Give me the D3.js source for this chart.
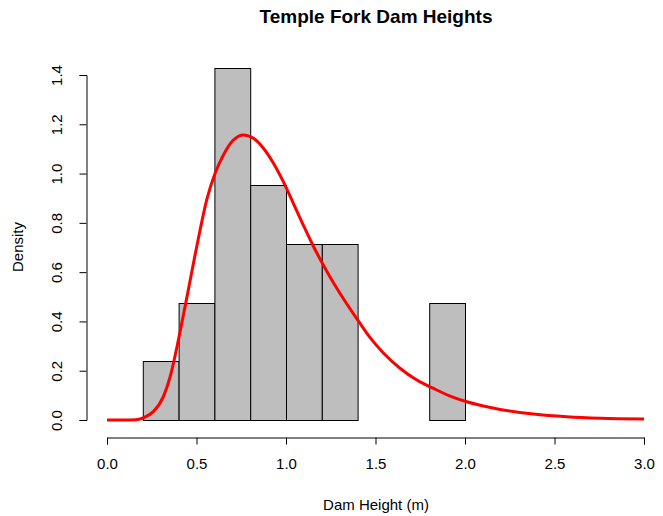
<!DOCTYPE html>
<html><head><meta charset="utf-8">
<script src="https://cdn.jsdelivr.net/npm/d3@7"></script>
<style>body{margin:0;background:#fff}svg{display:block}text{font-family:"Liberation Sans",Arial,sans-serif;fill:#000}</style>
</head><body>
<svg id="c" width="663" height="516"></svg>
<script>
// Histogram bins (m) and densities
const binStart = [0.2, 0.4, 0.6, 0.8, 1.0, 1.2, 1.8];
const binEnd   = [0.4, 0.6, 0.8, 1.0, 1.2, 1.4, 2.0];
const density  = [0.238, 0.476, 1.429, 0.952, 0.714, 0.714, 0.476];
// Fitted density curve
const curveX = [0.0, 0.10, 0.16, 0.203, 0.259, 0.315, 0.353, 0.399, 0.436, 0.483, 0.520, 0.557, 0.604, 0.650, 0.706, 0.762, 0.818, 0.874, 0.930, 0.985, 1.041, 1.097, 1.153, 1.203, 1.265, 1.321, 1.405, 1.470, 1.544, 1.637, 1.731, 1.824, 1.917, 2.010, 2.103, 2.196, 2.382, 2.569, 2.755, 3.0];
const curveY = [0.0, 0.0, 0.001, 0.009, 0.034, 0.095, 0.176, 0.325, 0.46, 0.636, 0.771, 0.893, 1.001, 1.075, 1.136, 1.157, 1.143, 1.103, 1.042, 0.967, 0.879, 0.790, 0.705, 0.636, 0.557, 0.492, 0.401, 0.334, 0.272, 0.210, 0.162, 0.128, 0.097, 0.074, 0.057, 0.043, 0.024, 0.013, 0.007, 0.004];
const xTicks = [0.0, 0.5, 1.0, 1.5, 2.0, 2.5, 3.0];
const yTicks = [0.0, 0.2, 0.4, 0.6, 0.8, 1.0, 1.2, 1.4];

const svg = d3.select("#c");
const x = d3.scaleLinear().domain([0, 3]).range([107, 644]);
const y = d3.scaleLinear().domain([0, 1.4]).range([420, 75]);

svg.append("text").attr("x", 376).attr("y", 23).attr("text-anchor", "middle")
  .style("font-weight", "bold").style("font-size", "19px").text("Temple Fork Dam Heights");

// bars
svg.append("g").selectAll("rect").data(density).join("rect")
  .attr("x", (d, i) => x(binStart[i]) + 0.5)
  .attr("width", (d, i) => x(binEnd[i]) - x(binStart[i]))
  .attr("y", d => Math.round(y(d)) + 0.5)
  .attr("height", d => y(0) - Math.round(y(d)))
  .attr("fill", "#bebebe").attr("stroke", "#000").attr("stroke-width", 1);

// curve
const line = d3.line().x(d => x(d[0])).y(d => y(d[1])).curve(d3.curveMonotoneX);
svg.append("path").datum(curveX.map((v, i) => [v, curveY[i]]))
  .attr("d", line).attr("fill", "none").attr("stroke", "#ff0000").attr("stroke-width", 3)
  .attr("stroke-linejoin", "round");

// x axis
const xAxis = d3.axisBottom(x).tickValues(xTicks).tickFormat(d3.format(".1f")).tickSize(7).tickPadding(14);
const gx = svg.append("g").attr("transform", "translate(0,437.5)").call(xAxis);
gx.select(".domain").attr("stroke", "#000");
gx.selectAll("text").style("font-size", "15px").style("font-family", "'Liberation Sans',Arial,sans-serif").attr("fill", "#000");

// y axis
const yAxis = d3.axisLeft(y).tickValues(yTicks).tickFormat(d3.format(".1f")).tickSize(7);
const gy = svg.append("g").attr("transform", "translate(86.5,0)").call(yAxis);
gy.selectAll("text").remove();
gy.selectAll(".tick").append("text")
  .attr("transform", "translate(-25,0) rotate(-90)")
  .attr("text-anchor", "middle").attr("fill", "#000")
  .style("font-size", "15px").style("font-family", "'Liberation Sans',Arial,sans-serif")
  .text(d => d3.format(".1f")(d));

svg.append("text").attr("transform", "translate(23,247) rotate(-90)").attr("text-anchor", "middle")
  .style("font-size", "15px").text("Density");
svg.append("text").attr("x", 376).attr("y", 510).attr("text-anchor", "middle")
  .style("font-size", "15px").text("Dam Height (m)");
</script>
</body></html>
